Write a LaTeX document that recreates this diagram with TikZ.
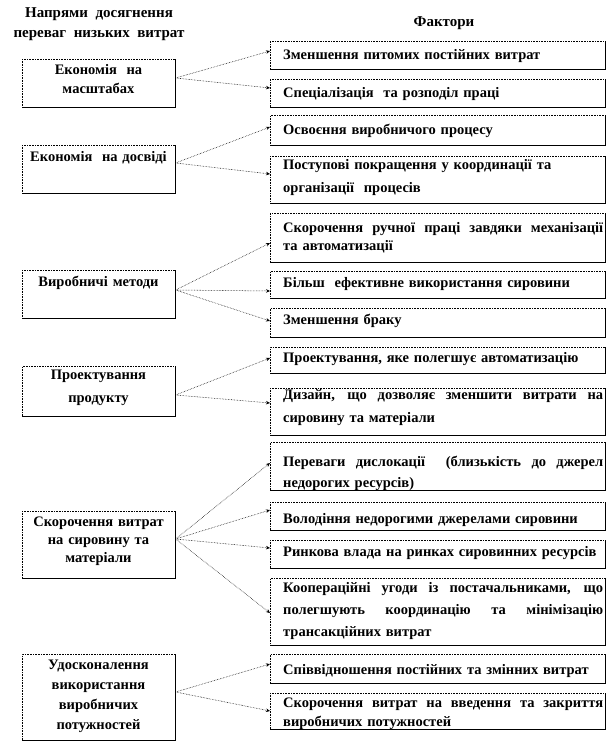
\documentclass[tikz,border=0pt]{standalone}
\usepackage{fontspec}
\setmainfont{Liberation Serif}
\usetikzlibrary{arrows.meta}
\tikzset{
  x=1pt, y=-1pt,
  frame/.style={draw=black, densely dotted, line width=0.6pt, inner sep=0pt, anchor=north west},
  edge/.style={line width=1pt, solid},
  ltext/.style={inner sep=0pt, anchor=north, text width=152pt, align=center,
    font=\fontsize{14.5}{#1}\selectfont\bfseries},
  ltext/.default=20,
  rtext/.style={inner sep=0pt, anchor=north west, text width=320pt, align=left,
    font=\fontsize{14.5}{#1}\selectfont\bfseries},
  rtext/.default=21,
  head/.style={inner sep=0pt, anchor=north, align=center,
    font=\fontsize{15}{20}\selectfont\bfseries},
  conn/.style={densely dotted, line width=0.55pt, -{Stealth[length=4pt,width=3.5pt]}},
}
\newcommand{\fs}{\rule{0pt}{10pt}}
\newcommand{\jl}[1]{\makebox[320pt][s]{\spaceskip=0.25em plus 1fil\relax#1}}
\begin{document}
\begin{tikzpicture}
\useasboundingbox (0,0) rectangle (609,744);
% headers
\node[head] (h1) at (99,7.4) {\fs Напрями~~досягнення\\переваг~~низьких~~витрат};
\node[head] (h2) at (444,16.4) {\fs Фактори};
% left boxes
\node[frame, minimum width=153pt, minimum height=48pt] (L1) at (22,59) {};
\node[frame, minimum width=153pt, minimum height=48pt] (L2) at (22,145) {};
\node[frame, minimum width=153pt, minimum height=48pt] (L3) at (22,270) {};
\node[frame, minimum width=153pt, minimum height=50pt] (L4) at (22,366) {};
\node[frame, minimum width=153pt, minimum height=67pt] (L5) at (22,511) {};
\node[frame, minimum width=153pt, minimum height=86pt] (L6) at (22,654) {};
\node[ltext=19] (t1) at (98.5,64.4) {\fs Економія~~на\\масштабах};
\node[ltext] (t2) at (98.5,151.4) {\fs Економія~~на досвіді};
\node[ltext] (t3) at (98.5,276.4) {\fs Виробничі методи};
\node[ltext=23] (t4) at (98.5,369.4) {\fs Проектування\\продукту};
\node[ltext=18] (t5) at (98.5,516.4) {\fs Скорочення витрат\\на сировину та\\матеріали};
\node[ltext=20] (t6) at (98.5,659.4) {\fs Удосконалення\\використання\\виробничих\\потужностей};
% right boxes
\foreach \n/\t/\h in {R1/41/28, R2/79/28, R3/115/30, R4/156/47, R5/213/49, R6/271/27, R7/308/29, R8/347/26, R9/388/47, R10/442/48, R11/502/28, R12/540/28, R13/578/67, R14/654/29, R15/693/36}
  \node[frame, minimum width=335pt, minimum height=\h pt] (\n) at (270,\t) {};
\node[rtext] (s1) at (283,49.4) {\fs Зменшення питомих постійних витрат};
\node[rtext] (s2) at (283,87.4) {\fs Спеціалізація~~та розподіл праці};
\node[rtext] (s3) at (283,124.4) {\fs Освоєння виробничого процесу};
\node[rtext=23] (s4) at (283,159.4) {\fs Поступові покращення у координації та\\організації~~процесів};
\node[rtext=17.5] (s5) at (283,222.4) {\fs\jl{Скорочення ручної праці завдяки механізації}\\та автоматизації};
\node[rtext] (s6) at (283,277.4) {\fs Більш~~ефективне використання сировини};
\node[rtext] (s7) at (283,314.4) {\fs Зменшення браку};
\node[rtext] (s8) at (283,352.4) {\fs Проектування, яке полегшує автоматизацію};
\node[rtext=23] (s9) at (283,389.4) {\fs\jl{Дизайн, що дозволяє зменшити витрати на}\\сировину та матеріали};
\node[rtext=21] (s10) at (283,456.4) {\fs\jl{Переваги дислокації~~(близькість до джерел}\\недорогих ресурсів)};
\node[rtext] (s11) at (283,513.4) {\fs Володіння недорогими джерелами сировини};
\node[rtext] (s12) at (283,546.4) {\fs Ринкова влада на ринках сировинних ресурсів};
\node[rtext=22] (s13) at (283,582.4) {\fs\jl{Коопераційні угоди із постачальниками, що}\\\jl{полегшують координацію та мінімізацію}\\трансакційних витрат};
\node[rtext] (s14) at (283,664.4) {\fs Співвідношення постійних та змінних витрат};
\node[rtext=19] (s15) at (283,697.4) {\fs\jl{Скорочення витрат на введення та закриття}\\виробничих потужностей};
% heavier right/bottom edges
\foreach \n in {L1,L2,L3,L4,L5,L6,R1,R2,R3,R4,R5,R6,R7,R8,R9,R10,R11,R12,R13,R14,R15}
  \draw[edge] (\n.north east) -- (\n.south east) -- (\n.south west);
% connectors
\draw[conn] (L1.east |- 0,78) -- (R1.west |- 0,51);
\draw[conn] (L1.east |- 0,78) -- (R2.west |- 0,88);
\draw[conn] (L2.east |- 0,163) -- (R3.west |- 0,127);
\draw[conn] (L2.east |- 0,163) -- (R4.west |- 0,174);
\draw[conn] (L3.east |- 0,290) -- (R5.west |- 0,243);
\draw[conn] (L3.east |- 0,290) -- (R6.west |- 0,291);
\draw[conn] (L3.east |- 0,290) -- (R7.west |- 0,321);
\draw[conn] (L4.east |- 0,395) -- (R8.west |- 0,358);
\draw[conn] (L4.east |- 0,395) -- (R9.west |- 0,403);
\draw[conn] (L5.east |- 0,539) -- (R10.west |- 0,463);
\draw[conn] (L5.east |- 0,539) -- (R11.west |- 0,510);
\draw[conn] (L5.east |- 0,539) -- (R12.west |- 0,548);
\draw[conn] (L5.east |- 0,539) -- (R13.west |- 0,613);
\draw[conn] (L6.east |- 0,692) -- (R14.west |- 0,664);
\draw[conn] (L6.east |- 0,692) -- (R15.west |- 0,711);
\end{tikzpicture}
\end{document}
